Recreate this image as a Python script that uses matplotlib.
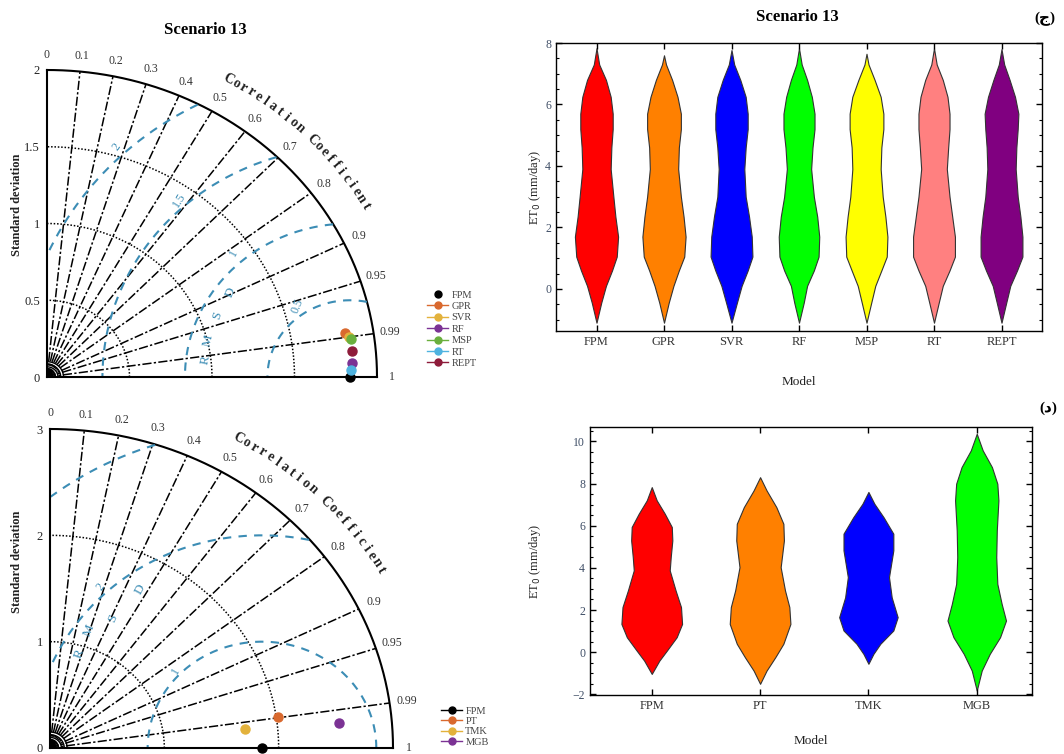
import numpy as np
import matplotlib
matplotlib.use("Agg")
import matplotlib.pyplot as plt
from matplotlib.lines import Line2D
from matplotlib.ticker import MultipleLocator

plt.rcParams['font.family'] = ['Liberation Serif', 'DejaVu Sans']

# ---- Taylor diagram data (std, correlation) ----
models_a = ['FPM', 'GPR', 'SVR', 'RF', 'MSP', 'RT', 'REPT']
std_a = [1.836, 1.829, 1.850, 1.852, 1.857, 1.841, 1.858]
corr_a = [1.0, 0.9876, 0.990, 0.9988, 0.991, 0.9997, 0.9958]
col_a = ['#000000', '#D9692E', '#E3B23C', '#7B3294', '#6AAF3D', '#4FB3E0', '#8E1B3A']

models_b = ['FPM', 'PT', 'TMK', 'MGB']
std_b = [1.854, 2.018, 1.715, 2.541]
corr_b = [1.0, 0.9897, 0.9947, 0.9958]
col_b = ['#000000', '#D9692E', '#E3B23C', '#7B3294']

corr_ticks = [0.1, 0.2, 0.3, 0.4, 0.5, 0.6, 0.7, 0.8, 0.9, 0.95, 0.99]
corr_labels = ['0.1', '0.2', '0.3', '0.4', '0.5', '0.6', '0.7', '0.8', '0.9', '0.95', '0.99']

# ---- violin outlines: ET0 levels and half widths ----
levels_a = [7.3, 6.8, 6.25, 5.7, 5.2, 4.6, 3.9, 3.0, 2.35, 1.7, 1.05, 0.6, 0.1, -0.45]
tips_a = {'FPM': (-1.1, 7.83), 'GPR': (-1.1, 7.6), 'SVR': (-1.1, 7.77), 'RF': (-1.1, 7.83),
          'M5P': (-1.1, 7.65), 'RT': (-1.1, 7.83), 'REPT': (-1.1, 7.8)}
width_fpm = [0.04, 0.14, 0.21, 0.24, 0.24, 0.22, 0.21, 0.25, 0.28, 0.32, 0.30, 0.23, 0.14, 0.07]
width_gpr = [0.03, 0.12, 0.20, 0.25, 0.25, 0.22, 0.21, 0.25, 0.29, 0.32, 0.30, 0.22, 0.14, 0.07]
width_svr = [0.04, 0.13, 0.21, 0.24, 0.24, 0.21, 0.19, 0.21, 0.26, 0.30, 0.31, 0.24, 0.15, 0.08]
width_rf = [0.04, 0.12, 0.19, 0.23, 0.23, 0.20, 0.18, 0.22, 0.27, 0.30, 0.29, 0.22, 0.12, 0.07]
width_m5p = [0.03, 0.12, 0.21, 0.25, 0.25, 0.22, 0.21, 0.24, 0.28, 0.31, 0.30, 0.22, 0.13, 0.07]
width_rt = [0.04, 0.13, 0.20, 0.23, 0.23, 0.21, 0.19, 0.23, 0.27, 0.31, 0.31, 0.23, 0.13, 0.07]
width_rept = [0.04, 0.12, 0.20, 0.25, 0.24, 0.22, 0.21, 0.24, 0.28, 0.31, 0.31, 0.23, 0.13, 0.07]
violin_a = ['FPM', 'GPR', 'SVR', 'RF', 'M5P', 'RT', 'REPT']
widths_a = [width_fpm, width_gpr, width_svr, width_rf, width_m5p, width_rt, width_rept]
vcol_a = ['#FF0000', '#FF8000', '#0000FF', '#00FF00', '#FFFF00', '#FF8080', '#800080']

violin_b = ['FPM', 'PT', 'TMK', 'MGB']
levels_b = [
    [7.83, 7.2, 6.57, 5.94, 5.3, 4.5, 3.88, 2.93, 2.14, 1.34, 0.71, 0.08, -0.4, -1.03],
    [8.3, 7.67, 6.88, 6.09, 5.3, 4.03, 2.93, 2.14, 1.34, 0.4, -0.24, -0.87, -1.5],
    [7.6, 7.04, 6.4, 5.62, 4.83, 3.56, 2.6, 1.66, 1.03, 0.4, -0.08, -0.55],
    [10.36, 9.57, 8.78, 7.99, 7.2, 5.78, 4.51, 3.24, 2.29, 1.5, 0.71, -0.08, -0.87, -1.82],
]
widths_b = [
    [0, 0.046, 0.12, 0.185, 0.19, 0.175, 0.166, 0.22, 0.27, 0.28, 0.23, 0.14, 0.07, 0],
    [0, 0.06, 0.15, 0.215, 0.22, 0.19, 0.23, 0.27, 0.28, 0.215, 0.14, 0.06, 0],
    [0, 0.055, 0.14, 0.23, 0.23, 0.19, 0.215, 0.27, 0.23, 0.11, 0.046, 0],
    [0, 0.055, 0.14, 0.19, 0.2, 0.185, 0.18, 0.19, 0.23, 0.27, 0.215, 0.12, 0.046, 0],
]
vcol_b = ['#FF0000', '#FF8000', '#0000FF', '#00FF00']

W, H = 1064, 754
fig = plt.figure(figsize=(W / 100, H / 100), dpi=100)

RMS_BLUE = '#3C8DB5'


def px_axes(left, top, right, bottom):
    return fig.add_axes([left / W, 1 - bottom / H, (right - left) / W, (bottom - top) / H])


def taylor(ax, R, arcs, ref, rms_levels, rms_text, letters, stds, corrs, cols):
    ax.set_xlim(0, R)
    ax.set_ylim(0, R)
    for s in ['top', 'right']:
        ax.spines[s].set_visible(False)
    for s in ['left', 'bottom']:
        ax.spines[s].set_linewidth(1.5)
    ax.set_xticks([])
    ticks = [0] + arcs + [R]
    ax.set_yticks(ticks)
    ax.set_yticklabels(['%g' % t for t in ticks], fontsize=9, color='#222222')
    ax.tick_params(axis='y', length=0, pad=5)

    th = np.linspace(0, np.pi / 2, 300)
    ax.plot(R * np.cos(th), R * np.sin(th), color='k', lw=1.5, clip_on=False)
    for a in arcs:
        ax.plot(a * np.cos(th), a * np.sin(th), color='k', lw=1.1, ls=(0, (1, 1.2)))

    # correlation rays
    for c, lab in zip(corr_ticks, corr_labels):
        t = np.arccos(c)
        ax.plot([0, R * np.cos(t)], [0, R * np.sin(t)], color='k', lw=1.1,
                ls=(0, (6, 1.5, 1.5, 1.5)))
        ax.text(1.05 * R * np.cos(t), 1.05 * R * np.sin(t), lab, fontsize=8.5,
                color='#333333', ha='center', va='center', clip_on=False)
    ax.text(0, 1.05 * R, '0', fontsize=8.5, color='#333333', ha='center', va='center')
    ax.text(1.045 * R, 0, '1', fontsize=8.5, color='#333333', ha='center', va='center')
    for r in np.linspace(0.008, 0.05, 6) * R:
        ax.plot(r * np.cos(th), r * np.sin(th), color='k', lw=1.0, clip_on=False)

    # centred RMSD contours
    ph = np.linspace(0, np.pi, 600)
    for rms in rms_levels:
        x = ref + rms * np.cos(ph)
        y = rms * np.sin(ph)
        bad = (x < 0) | (x ** 2 + y ** 2 > R ** 2)
        x[bad] = np.nan
        y[bad] = np.nan
        ax.plot(x, y, color=RMS_BLUE, lw=1.5, ls=(0, (4, 3.5)))
    for txt, x, y, rot in rms_text:
        ax.text(x, y, txt, fontsize=8.5, color=RMS_BLUE, rotation=rot,
                ha='center', va='center')
    for ch, x, y, rot in letters:
        ax.text(x, y, ch, fontsize=9.5, color=RMS_BLUE, rotation=rot,
                ha='center', va='center')

    # curved axis title along the outer arc
    text = 'Correlation Coefficient'
    angs = np.radians(np.linspace(60.5, 30.0, len(text)))
    rr = 1.115 * R
    for ch, a in zip(text, angs):
        p0 = ax.transData.transform((rr * np.cos(a), rr * np.sin(a)))
        p1 = ax.transData.transform((rr * np.cos(a - 0.01), rr * np.sin(a - 0.01)))
        rot = np.degrees(np.arctan2(p1[1] - p0[1], p1[0] - p0[0]))
        ax.text(rr * np.cos(a), rr * np.sin(a), ch, fontsize=10, fontweight='bold',
                color='#222222', rotation=rot, rotation_mode='anchor',
                ha='center', va='center', clip_on=False)

    for s, c, col in zip(stds, corrs, cols):
        ax.plot(s * c, s * np.sqrt(1 - c ** 2), 'o', color=col, ms=6.5,
                clip_on=False, zorder=5)


def legend_handles(names, cols, first_plain):
    hs = []
    for i, (n, c) in enumerate(zip(names, cols)):
        ls = 'none' if (first_plain and i == 0) else '-'
        hs.append(Line2D([], [], color=c, marker='o', ms=5, lw=1.0, ls=ls, label=n))
    return hs


# top-left Taylor diagram
ax1 = px_axes(47, 70, 377, 377)
taylor(ax1, 2.0, [0.5, 1.0, 1.5], 1.836, [0.5, 1.0, 1.5, 2.0],
       [('0.5', 1.52, 0.46, 68), ('1', 1.13, 0.81, 62), ('1.5', 0.80, 1.15, 58),
        ('2', 0.42, 1.50, 55)],
       [('R', 0.96, 0.11, 78), ('M', 0.975, 0.24, 76), ('S', 1.03, 0.40, 72),
        ('D', 1.11, 0.55, 68)],
       std_a, corr_a, col_a)
fig.text(17 / W, 1 - 205 / H, 'Standard deviation', rotation=90, fontsize=9,
         fontweight='bold', ha='center', va='center', color='#222222')
fig.text(205 / W, 1 - 30 / H, 'Scenario 13', fontsize=12, fontweight='bold',
         ha='center', va='center')
fig.legend(handles=legend_handles(models_a, col_a, True), loc='upper left',
           bbox_to_anchor=(418 / W, 1 - 281 / H), frameon=False, fontsize=7.5,
           handlelength=2.0, handletextpad=0.3, labelspacing=0.2, labelcolor='#444444')

# bottom-left Taylor diagram
ax2 = px_axes(50, 429, 393, 748)
taylor(ax2, 3.0, [1.0, 2.0], 1.854, [1.0, 2.0, 3.0],
       [('1', 1.10, 0.72, 60), ('2', 0.44, 1.52, 55)],
       [('R', 0.26, 0.89, 70), ('M', 0.34, 1.11, 68), ('S', 0.55, 1.22, 66),
        ('D', 0.79, 1.49, 62)],
       std_b, corr_b, col_b)
fig.text(17 / W, 1 - 562 / H, 'Standard deviation', rotation=90, fontsize=9,
         fontweight='bold', ha='center', va='center', color='#222222')
fig.legend(handles=legend_handles(models_b, col_b, False), loc='upper left',
           bbox_to_anchor=(432 / W, 1 - 697 / H), frameon=False, fontsize=7.5,
           handlelength=2.0, handletextpad=0.3, labelspacing=0.1, labelcolor='#444444')


def style_violin(ax, names, label_x, label_pad):
    ax.set_xticks(range(len(names)))
    ax.set_xticklabels(names, fontsize=9, color='#333333')
    ax.yaxis.set_major_locator(MultipleLocator(2))
    ax.yaxis.set_minor_locator(MultipleLocator(0.5))
    ax.tick_params(axis='both', which='both', direction='in', top=True, right=True)
    ax.tick_params(axis='both', which='major', length=4, width=1.0)
    ax.tick_params(axis='both', which='minor', length=2, width=0.8)
    ax.tick_params(axis='y', labelsize=8.5, labelcolor='#3F4E66')
    for s in ax.spines.values():
        s.set_linewidth(1.0)
    ax.set_xlabel('Model', fontsize=9.5, labelpad=label_pad, color='#222222')
    ax.set_ylabel('ET$_0$ (mm/day)', fontsize=9, color='#222222')
    ax.yaxis.set_label_coords(label_x, 0.5)


# top-right violins
ax3 = px_axes(556, 43, 1042, 331)
for i, (n, w, c) in enumerate(zip(violin_a, widths_a, vcol_a)):
    lo, hi = tips_a[n]
    y = np.array([hi] + levels_a + [lo])
    hw = np.array([0] + w + [0])
    ax3.fill_betweenx(y, i - hw, i + hw, facecolor=c, edgecolor='#333333', lw=0.8)
ax3.set_xlim(-0.6, 6.6)
ax3.set_ylim(-1.37, 8.0)
style_violin(ax3, violin_a, (543 - 556) / 486, 20)
fig.text(797 / W, 1 - 17 / H, 'Scenario 13', fontsize=12, fontweight='bold',
         ha='center', va='center')
fig.text(1045 / W, 1 - 19 / H, '(ج)', fontsize=11, fontweight='bold',
         ha='center', va='center')

# bottom-right violins
ax4 = px_axes(590, 427, 1032, 695)
for i, (y, w, c) in enumerate(zip(levels_b, widths_b, vcol_b)):
    y = np.array(y)
    hw = np.array(w)
    ax4.fill_betweenx(y, i - hw, i + hw, facecolor=c, edgecolor='#333333', lw=0.8)
ax4.set_xlim(-0.57, 3.51)
ax4.set_ylim(-2.03, 10.68)
style_violin(ax4, violin_b, (543 - 590) / 442, 17)
fig.text(1048 / W, 1 - 408 / H, '(د)', fontsize=11, fontweight='bold',
         ha='center', va='center')

fig.savefig('out.png', dpi=100)
